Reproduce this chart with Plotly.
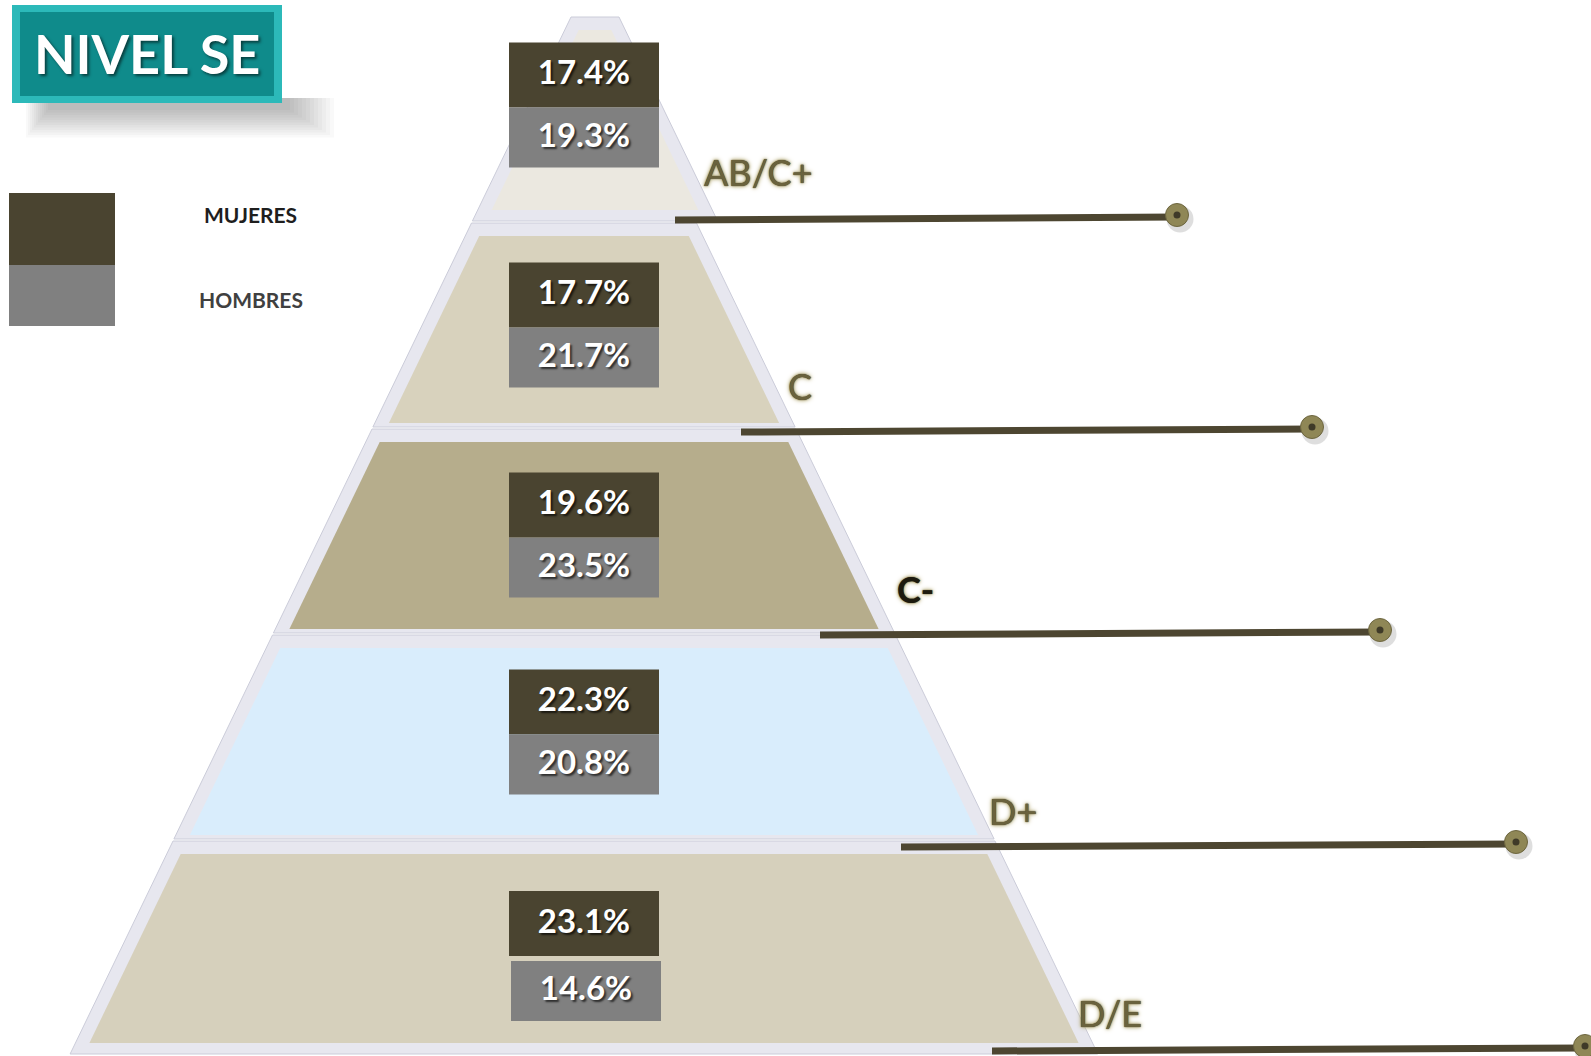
import plotly.graph_objects as go

# ---------------- data ----------------
categories = ["AB/C+", "C", "C-", "D+", "D/E"]
mujeres = [17.4, 17.7, 19.6, 22.3, 23.1]
hombres = [19.3, 21.7, 23.5, 20.8, 14.6]
series_names = ["MUJERES", "HOMBRES"]
title_text = "NIVEL SE"

# ---------------- layout / style constants ----------------
W, H = 1591, 1056
CX = 584            # pyramid centre line
APEX_Y = 19         # where the pyramid sides meet
SLOPE = 0.483       # half-width growth per pixel of height
FRAME_PAD = 14
TIER_TOP = 16
TIER_PITCH = 206
BASE_Y = 1055
tier_colors = ["#ebe8e0", "#d8d2bd", "#b6ad8c", "#d9edfc", "#d6d0bc"]
tier_right_shift = [22, 0, 0, 0, 0]
box_shift = [-14, 0, 4, -5, 6]
box_gap = [0, 0, 0, 0, 5]
box_gray_dx = [0, 0, 0, 0, 2]
label_dy = [-50, -42, -45, -29, -42]
label_dx = [44, 25, 36, 20, 12]
leader_dy = [-2, 4, 1, 7, -4]
leader_start_x = [675, 741, 820, 901, 992]
leader_end_x = [1177, 1312, 1380, 1516, 1585]
bold_labels = {"C-"}
DARK = "#4a4430"
GRAY = "#808080"
LINE = "#4d4631"
FONT = "Lato"

n = len(categories)
bounds = [TIER_TOP + k * TIER_PITCH for k in range(n)] + [BASE_Y]


def hw(y):
    return SLOPE * (y - APEX_Y)


shapes = []


def poly(pts, fill, line=None, lw=0):
    path = "M " + " L ".join(f"{x:.1f},{y:.1f}" for x, y in pts) + " Z"
    shapes.append(dict(type="path", path=path, xref="x", yref="y",
                       fillcolor=fill, line=dict(color=line or fill, width=lw),
                       layer="below"))


def rect(x0, y0, x1, y1, fill, line=None, lw=0):
    shapes.append(dict(type="rect", x0=x0, y0=y0, x1=x1, y1=y1, xref="x", yref="y",
                       fillcolor=fill, line=dict(color=line or fill, width=lw),
                       layer="below"))


# ---- pyramid tiers ----
for i in range(n):
    y0, y1 = bounds[i], bounds[i + 1]
    rs = tier_right_shift[i]
    fy0, fy1 = y0 + 1, y1 - 1
    poly([(CX - hw(fy0) - FRAME_PAD, fy0), (CX + hw(fy0) + FRAME_PAD + rs, fy0),
          (CX + hw(fy1) + FRAME_PAD + rs, fy1), (CX - hw(fy1) - FRAME_PAD, fy1)],
         "#e7e7ef", "#cbccd9", 1)
    iy0 = y0 + 14
    iy1 = y1 - (12 if i in (0, n - 1) else 5)
    poly([(CX - hw(iy0), iy0), (CX + hw(iy0) + rs, iy0),
          (CX + hw(iy1) + rs, iy1), (CX - hw(iy1), iy1)],
         tier_colors[i])

# ---- value boxes ----
box_mid = []
box_mid_h = []
for i in range(n):
    yc = (bounds[i] + bounds[i + 1]) / 2 + box_shift[i]
    top, split, bot = yc - 62.5, yc + 2.5, yc + 62.5
    g = box_gap[i]
    dx = box_gray_dx[i]
    rect(CX - 75, top, CX + 75, split, DARK)
    rect(CX - 75 + dx, split + g, CX + 75 + dx, bot + g, GRAY)
    box_mid.append((top + split) / 2 + 1)
    box_mid_h.append((split + g + bot + g) / 2 + 1)

# ---- title box with soft shadow ----
for k in range(12):
    rect(48 - k * 2, 98, 290 + k * 4, 110 + k * 2.5, "rgba(0,0,0,0.022)")
rect(12, 5, 282, 103, "#2cb9b9")
rect(20, 12, 274, 96, "#0f8b8b")

# ---- legend swatches ----
rect(9, 193, 115, 265, DARK)
rect(9, 265, 115, 326, GRAY)

fig = go.Figure()

# leader lines with end knobs
for i in range(n):
    ly = bounds[i + 1] + leader_dy[i]
    sx = leader_start_x[i]
    ex = leader_end_x[i]
    fig.add_trace(go.Scatter(x=[sx, ex], y=[ly, ly - 3], mode="lines",
                             line=dict(color=LINE, width=7), hoverinfo="skip"))
    fig.add_trace(go.Scatter(x=[ex + 3], y=[ly - 1], mode="markers",
                             marker=dict(size=27, color="rgba(0,0,0,0.13)"), hoverinfo="skip"))
    fig.add_trace(go.Scatter(x=[ex], y=[ly - 5], mode="markers",
                             marker=dict(size=23, color="#8f8756",
                                         line=dict(color="#6d6640", width=1)), hoverinfo="skip"))
    fig.add_trace(go.Scatter(x=[ex], y=[ly - 5], mode="markers",
                             marker=dict(size=7, color="#3f3a28"), hoverinfo="skip"))

# value texts
val_font = dict(family=FONT, size=33, color="white", weight="bold",
                shadow="2px 2px 2px rgba(0,0,0,0.65)")
fig.add_trace(go.Scatter(x=[CX] * n, y=box_mid, mode="text",
                         text=[f"{v:.1f}%" for v in mujeres],
                         textposition="middle center", textfont=val_font,
                         name=series_names[0], hoverinfo="skip"))
fig.add_trace(go.Scatter(x=[CX + d for d in box_gray_dx], y=box_mid_h, mode="text",
                         text=[f"{v:.1f}%" for v in hombres],
                         textposition="middle center", textfont=val_font,
                         name=series_names[1], hoverinfo="skip"))

annotations = []
# category labels
for i, c in enumerate(categories):
    ly = bounds[i + 1] + label_dy[i]
    lx = CX + hw(ly) + label_dx[i]
    bold = c in bold_labels
    annotations.append(dict(
        x=lx, y=ly, xref="x", yref="y", text=c, showarrow=False,
        xanchor="left", yanchor="middle",
        font=dict(family=FONT, size=36, color="#1d1a0e" if bold else "#6a623d",
                  weight="bold" if bold else "normal",
                  shadow="0 0 1px #2b2716, 0 0 3px #b3a871, 0 0 5px #b3a871")))

# title
annotations.append(dict(x=147, y=53, xref="x", yref="y", text=title_text, showarrow=False,
                        xanchor="center", yanchor="middle",
                        font=dict(family=FONT, size=54, color="white", weight="bold",
                                  shadow="2px 2px 3px rgba(0,0,0,0.55)")))
# legend texts
annotations.append(dict(x=250, y=214, xref="x", yref="y", text=series_names[0], showarrow=False,
                        font=dict(family=FONT, size=21, color="#1e1e1e", weight="bold")))
annotations.append(dict(x=251, y=299, xref="x", yref="y", text=series_names[1], showarrow=False,
                        font=dict(family=FONT, size=21, color="#404040", weight="bold")))

fig.update_layout(
    width=W, height=H, margin=dict(l=0, r=0, t=0, b=0),
    paper_bgcolor="white", plot_bgcolor="white", showlegend=False,
    xaxis=dict(range=[0, W], visible=False, fixedrange=True),
    yaxis=dict(range=[H, 0], visible=False, fixedrange=True),
    shapes=shapes, annotations=annotations,
)

fig.write_html("out.html", config={"displayModeBar": False},
               post_script="document.body.style.margin='0';document.body.style.overflow='hidden';")
